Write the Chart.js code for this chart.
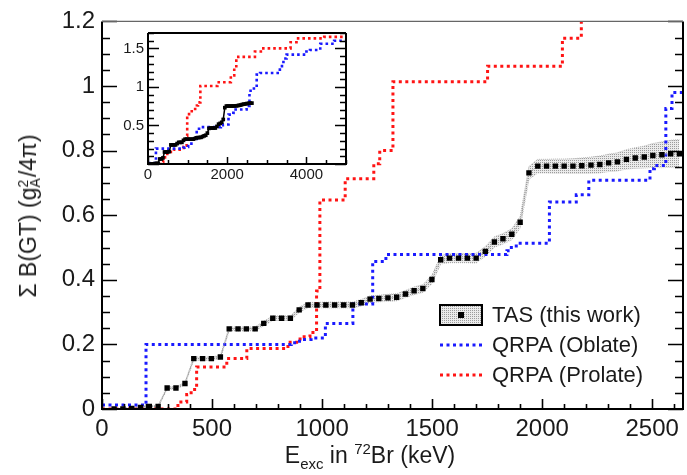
<!DOCTYPE html>
<html>
<head>
<meta charset="utf-8">
<script src="https://cdn.jsdelivr.net/npm/chart.js@4.4.0/dist/chart.umd.min.js"></script>
<style>
  body { margin: 0; background: #fff; }
  #wrap { position: relative; width: 687px; height: 475px; font-family: "Liberation Sans", Arial, sans-serif; color: #1a1a1a; }
  #main { position: absolute; left: 0; top: 0; }
  #inset { position: absolute; left: 110px; top: 20px; }
  .title { position: absolute; font-size: 23px; white-space: nowrap; line-height: 1; }
  .title sub, .title sup { font-size: 15px; }
  #xtitle { left: 370px; top: 456px; transform: translate(-50%, -50%); }
  #ytitle { left: 29px; top: 216px; transform: translate(-50%, -50%) rotate(-90deg); }
  .ss { display: inline-flex; flex-direction: column; font-size: 14px; line-height: 12px; vertical-align: 8px; margin-right: 1px; }
</style>
</head>
<body>
<div id="wrap">
  <canvas id="main" width="687" height="475"></canvas>
  <canvas id="inset" width="240" height="170"></canvas>
  <div class="title" id="xtitle">E<sub>exc</sub> in <sup>72</sup>Br (keV)</div>
  <div class="title" id="ytitle">Σ B(GT) (g<span class="ss"><span>2</span><span>A</span></span>/4π)</div>
</div>
<script>
// TAS (this work): bin energy (keV), cumulative B(GT), uncertainty
var tasEnergy = [55, 95, 135, 175, 215, 255, 296, 336, 377, 417, 457, 497, 538, 578, 618, 656, 696, 735, 776, 816, 856,
    896, 936, 977, 1017, 1057, 1098, 1138, 1178, 1218, 1258, 1299, 1339, 1379, 1418, 1458, 1499, 1539, 1579, 1620,
    1660, 1700, 1742, 1783, 1822, 1862, 1900, 1940, 1980, 2020, 2060, 2100, 2140, 2180, 2222, 2262, 2302, 2342,
    2383, 2423, 2464, 2503, 2544, 2584, 2624];
var tasValue = [0, 0, 0.002, 0.005, 0.008, 0.008, 0.065, 0.065, 0.079, 0.156, 0.156, 0.156, 0.161, 0.248, 0.248, 0.248,
    0.248, 0.265, 0.281, 0.281, 0.281, 0.307, 0.322, 0.322, 0.322, 0.322, 0.322, 0.322, 0.329, 0.34, 0.342, 0.344,
    0.346, 0.356, 0.366, 0.373, 0.401, 0.462, 0.467, 0.467, 0.467, 0.467, 0.488, 0.517, 0.527, 0.541, 0.578, 0.731,
    0.752, 0.752, 0.752, 0.752, 0.752, 0.753, 0.755, 0.757, 0.762, 0.765, 0.773, 0.777, 0.78, 0.785, 0.787, 0.79, 0.79];
var tasError = [0.003, 0.003, 0.003, 0.003, 0.003, 0.003, 0.004, 0.004, 0.004, 0.005, 0.005, 0.005, 0.005, 0.006, 0.006,
    0.006, 0.006, 0.007, 0.007, 0.007, 0.007, 0.008, 0.008, 0.008, 0.009, 0.009, 0.009, 0.009, 0.01, 0.01, 0.01, 0.011,
    0.011, 0.011, 0.012, 0.012, 0.013, 0.013, 0.014, 0.014, 0.014, 0.015, 0.015, 0.016, 0.016, 0.017, 0.018, 0.02,
    0.021, 0.021, 0.022, 0.022, 0.023, 0.024, 0.025, 0.026, 0.027, 0.028, 0.03, 0.032, 0.034, 0.037, 0.04, 0.042, 0.044];

// QRPA (Oblate): step start energy (keV) and level
var oblateEnergy = [0, 200, 860, 890, 920, 950, 1015, 1140, 1230, 1290, 1840, 1860, 1890, 2033, 2155, 2212, 2490, 2510,
    2562, 2590, 2745, 2830, 3330, 3420, 3500, 4000, 4090, 4350, 4700, 5000];
var oblateValue = [0.012, 0.2, 0.205, 0.21, 0.215, 0.22, 0.265, 0.325, 0.457, 0.478, 0.49, 0.505, 0.513, 0.641, 0.663,
    0.708, 0.744, 0.754, 0.93, 0.98, 1.16, 1.18, 1.27, 1.37, 1.42, 1.46, 1.48, 1.56, 1.6, 1.6];

// QRPA (Prolate)
var prolateEnergy = [0, 345, 385, 405, 430, 567, 658, 845, 900, 945, 975, 990, 1105, 1235, 1262, 1322, 1752, 2092, 2178,
    2230, 2280, 2700, 2850, 3600, 3750, 4450, 5000];
var prolateValue = [0, 0.022, 0.045, 0.06, 0.13, 0.156, 0.187, 0.207, 0.224, 0.237, 0.365, 0.647, 0.713, 0.759, 0.8,
    1.013, 1.061, 1.148, 1.25, 1.36, 1.39, 1.46, 1.5, 1.58, 1.63, 1.65, 1.65];

var xTicks = [0, 500, 1000, 1500, 2000, 2500];
var xTickLabels = ['0', '500', '1000', '1500', '2000', '2500'];
var yTicks = [0, 0.2, 0.4, 0.6, 0.8, 1, 1.2];
var yTickLabels = ['0', '0.2', '0.4', '0.6', '0.8', '1', '1.2'];
var insetXTicks = [0, 2000, 4000];
var insetXTickLabels = ['0', '2000', '4000'];
var insetYTicks = [0.5, 1, 1.5];
var insetYTickLabels = ['0.5', '1', '1.5'];

var FONT = '"Liberation Sans", Arial, sans-serif';

function pts(xs, ys) {
    return xs.map((x, i) => ({ x: x, y: ys[i] }));
}

var mainCtx = document.getElementById('main').getContext('2d');
var stipple = (function () {
    var c = document.createElement('canvas');
    c.width = 2; c.height = 2;
    var g = c.getContext('2d');
    g.fillStyle = '#ebebeb'; g.fillRect(0, 0, 2, 2);
    g.fillStyle = '#9c9c9c';
    g.fillRect(0, 0, 1, 1);
    return mainCtx.createPattern(c, 'repeat');
})();

// frame with inward ticks on left, right and bottom (ROOT style)
var axisFrame = {
    id: 'axisFrame',
    afterDatasetsDraw(chart, args, o) {
        var ctx = chart.ctx, a = chart.chartArea, xs = chart.scales.x, ys = chart.scales.y;
        ctx.save();
        ctx.strokeStyle = '#000';
        ctx.lineWidth = o.tickWidth;
        ctx.beginPath();
        for (var i = 0; i * o.xMinor <= xs.max; i++) {
            var v = i * o.xMinor;
            var px = Math.round(xs.getPixelForValue(v)) + 0.5;
            var len = (v % o.xMajor === 0) ? o.xMajorLen : o.xMinorLen;
            ctx.moveTo(px, a.bottom); ctx.lineTo(px, a.bottom - len);
        }
        for (var j = 0; j * o.yMinor <= ys.max + 1e-9; j++) {
            var w = j * o.yMinor;
            if (w < ys.min - 1e-9) continue;
            var py = Math.round(ys.getPixelForValue(w)) + 0.5;
            var r = w / o.yMajor;
            var ylen = Math.abs(r - Math.round(r)) < 1e-6 ? o.yMajorLen : o.yMinorLen;
            ctx.moveTo(a.left, py); ctx.lineTo(a.left + ylen, py);
            ctx.moveTo(a.right, py); ctx.lineTo(a.right - ylen, py);
        }
        ctx.stroke();
        ctx.lineWidth = o.frameWidth;
        ctx.beginPath();
        ctx.moveTo(a.left, a.top); ctx.lineTo(a.left, a.bottom); ctx.lineTo(a.right, a.bottom); ctx.lineTo(a.right, a.top);
        ctx.stroke();
        ctx.strokeStyle = o.topColor;
        ctx.lineWidth = o.topWidth;
        ctx.beginPath();
        ctx.moveTo(a.left, a.top); ctx.lineTo(a.right, a.top);
        ctx.stroke();
        ctx.restore();
    }
};

var boxLegend = {
    id: 'boxLegend',
    afterDraw(chart, args, o) {
        var ctx = chart.ctx;
        ctx.save();
        ctx.font = o.font;
        ctx.textBaseline = 'middle';
        o.items.forEach(function (idx, i) {
            var ds = chart.data.datasets[idx];
            var yy = o.y + i * o.rowGap;
            if (ds.legendBox) {
                ctx.fillStyle = stipple;
                ctx.fillRect(o.x, yy - 10, o.w, 20);
                ctx.lineWidth = 2;
                ctx.strokeStyle = '#000';
                ctx.strokeRect(o.x, yy - 10, o.w, 20);
                ctx.fillStyle = '#000';
                ctx.fillRect(o.x + o.w / 2 - 3, yy - 3, 6, 6);
            } else {
                ctx.strokeStyle = ds.borderColor;
                ctx.lineWidth = ds.borderWidth;
                ctx.setLineDash(ds.borderDash);
                ctx.beginPath();
                ctx.moveTo(o.x, yy); ctx.lineTo(o.x + o.w, yy);
                ctx.stroke();
                ctx.setLineDash([]);
            }
            ctx.fillStyle = '#1a1a1a';
            ctx.fillText(ds.label, o.x + o.w + 10, yy + 1);
        });
        ctx.restore();
    }
};

var whiteArea = {
    id: 'whiteArea',
    beforeDraw(chart) {
        var a = chart.chartArea;
        chart.ctx.save();
        chart.ctx.fillStyle = '#fff';
        chart.ctx.fillRect(a.left, a.top, a.right - a.left, a.bottom - a.top);
        chart.ctx.restore();
    }
};

var tasUpper = tasValue.map((v, i) => v + tasError[i]);
var tasLower = tasValue.map((v, i) => v - tasError[i]);

new Chart(mainCtx, {
    type: 'line',
    data: {
        datasets: [
            {
                label: 'TAS (this work)',
                legendBox: true,
                data: pts(tasEnergy, tasValue),
                borderColor: '#9a9a9a',
                borderWidth: 1,
                borderDash: [1, 1],
                pointStyle: 'rect',
                pointRadius: 3.8,
                pointBackgroundColor: '#000',
                pointBorderColor: '#000',
                pointBorderWidth: 0,
                fill: false,
                order: 0
            },
            {
                label: 'QRPA (Oblate)',
                data: pts(oblateEnergy, oblateValue),
                stepped: true,
                borderColor: '#1a1aff',
                borderWidth: 3,
                borderDash: [3, 3.5],
                pointRadius: 0,
                fill: false,
                order: 1
            },
            {
                label: 'QRPA (Prolate)',
                data: pts(prolateEnergy, prolateValue),
                stepped: true,
                borderColor: '#ff1414',
                borderWidth: 3,
                borderDash: [3, 3.5],
                pointRadius: 0,
                fill: false,
                order: 2
            },
            {
                label: 'TAS upper',
                data: pts(tasEnergy, tasUpper),
                borderColor: '#b4b4b4',
                borderWidth: 1,
                borderDash: [1, 1],
                pointRadius: 0,
                backgroundColor: stipple,
                fill: '+1',
                order: 3
            },
            {
                label: 'TAS lower',
                data: pts(tasEnergy, tasLower),
                borderColor: '#b4b4b4',
                borderWidth: 1,
                borderDash: [1, 1],
                pointRadius: 0,
                fill: false,
                order: 4
            }
        ]
    },
    options: {
        responsive: false,
        animation: false,
        events: [],
        layout: { padding: { top: 18, right: 4, left: 0, bottom: 0 } },
        scales: {
            x: {
                type: 'linear',
                min: 0,
                max: 2640,
                grid: { display: false, drawTicks: false, tickLength: 0 },
                border: { display: false },
                afterBuildTicks: function (scale) { scale.ticks = xTicks.map(v => ({ value: v })); },
                afterFit: function (scale) { scale.height = 66; },
                ticks: {
                    autoSkip: false,
                    maxRotation: 0,
                    padding: 6,
                    color: '#1a1a1a',
                    font: { family: FONT, size: 24 },
                    callback: function (v, i) { return xTickLabels[i]; }
                }
            },
            y: {
                min: 0,
                max: 1.2,
                grid: { display: false, drawTicks: false, tickLength: 0 },
                border: { display: false },
                afterBuildTicks: function (scale) { scale.ticks = yTicks.map(v => ({ value: v })); },
                afterFit: function (scale) { scale.width = 102; },
                ticks: {
                    autoSkip: false,
                    padding: 7,
                    color: '#1a1a1a',
                    font: { family: FONT, size: 24 },
                    callback: function (v, i) { return yTickLabels[i]; }
                }
            }
        },
        plugins: {
            legend: { display: false },
            tooltip: { enabled: false },
            axisFrame: {
                tickWidth: 1.6, frameWidth: 2, topColor: '#666', topWidth: 1.2,
                xMinor: 100, xMajor: 500, xMajorLen: 10, xMinorLen: 5,
                yMinor: 0.05, yMajor: 0.2, yMajorLen: 15, yMinorLen: 8
            },
            boxLegend: {
                items: [0, 1, 2], x: 440, y: 315, w: 42, rowGap: 30,
                font: '22px "Liberation Sans", Arial, sans-serif'
            }
        }
    },
    plugins: [axisFrame, boxLegend]
});

// inset: full energy range
new Chart(document.getElementById('inset').getContext('2d'), {
    type: 'line',
    data: {
        datasets: [
            {
                label: 'TAS (this work)',
                data: pts(tasEnergy, tasValue),
                borderColor: '#000',
                borderWidth: 1.5,
                pointStyle: 'rect',
                pointRadius: 2.6,
                pointBackgroundColor: '#000',
                pointBorderWidth: 0,
                fill: false,
                order: 0
            },
            {
                label: 'QRPA (Oblate)',
                data: pts(oblateEnergy, oblateValue),
                stepped: true,
                borderColor: '#1a1aff',
                borderWidth: 2.6,
                borderDash: [2.6, 3],
                pointRadius: 0,
                fill: false,
                order: 1
            },
            {
                label: 'QRPA (Prolate)',
                data: pts(prolateEnergy, prolateValue),
                stepped: true,
                borderColor: '#ff1414',
                borderWidth: 2.6,
                borderDash: [2.6, 3],
                pointRadius: 0,
                fill: false,
                order: 2
            }
        ]
    },
    options: {
        responsive: false,
        animation: false,
        events: [],
        layout: { padding: { top: 6, right: 4, left: 0, bottom: 0 } },
        scales: {
            x: {
                type: 'linear',
                min: 0,
                max: 5000,
                grid: { display: false, drawTicks: false, tickLength: 0 },
                border: { display: false },
                afterBuildTicks: function (scale) { scale.ticks = insetXTicks.map(v => ({ value: v })); },
                afterFit: function (scale) { scale.height = 26; },
                ticks: {
                    autoSkip: false,
                    maxRotation: 0,
                    padding: 2,
                    color: '#1a1a1a',
                    font: { family: FONT, size: 15 },
                    callback: function (v, i) { return insetXTickLabels[i]; }
                }
            },
            y: {
                min: 0,
                max: 1.7,
                grid: { display: false, drawTicks: false, tickLength: 0 },
                border: { display: false },
                afterBuildTicks: function (scale) { scale.ticks = insetYTicks.map(v => ({ value: v })); },
                afterFit: function (scale) { scale.width = 38; },
                ticks: {
                    autoSkip: false,
                    padding: 4,
                    color: '#1a1a1a',
                    font: { family: FONT, size: 15 },
                    callback: function (v, i) { return insetYTickLabels[i]; }
                }
            }
        },
        plugins: {
            legend: { display: false },
            tooltip: { enabled: false },
            axisFrame: {
                tickWidth: 1.5, frameWidth: 2, topColor: '#000', topWidth: 2,
                xMinor: 500, xMajor: 2000, xMajorLen: 7, xMinorLen: 4,
                yMinor: 0.1, yMajor: 0.5, yMajorLen: 11, yMinorLen: 6
            }
        }
    },
    plugins: [whiteArea, axisFrame]
});
</script>
</body>
</html>
